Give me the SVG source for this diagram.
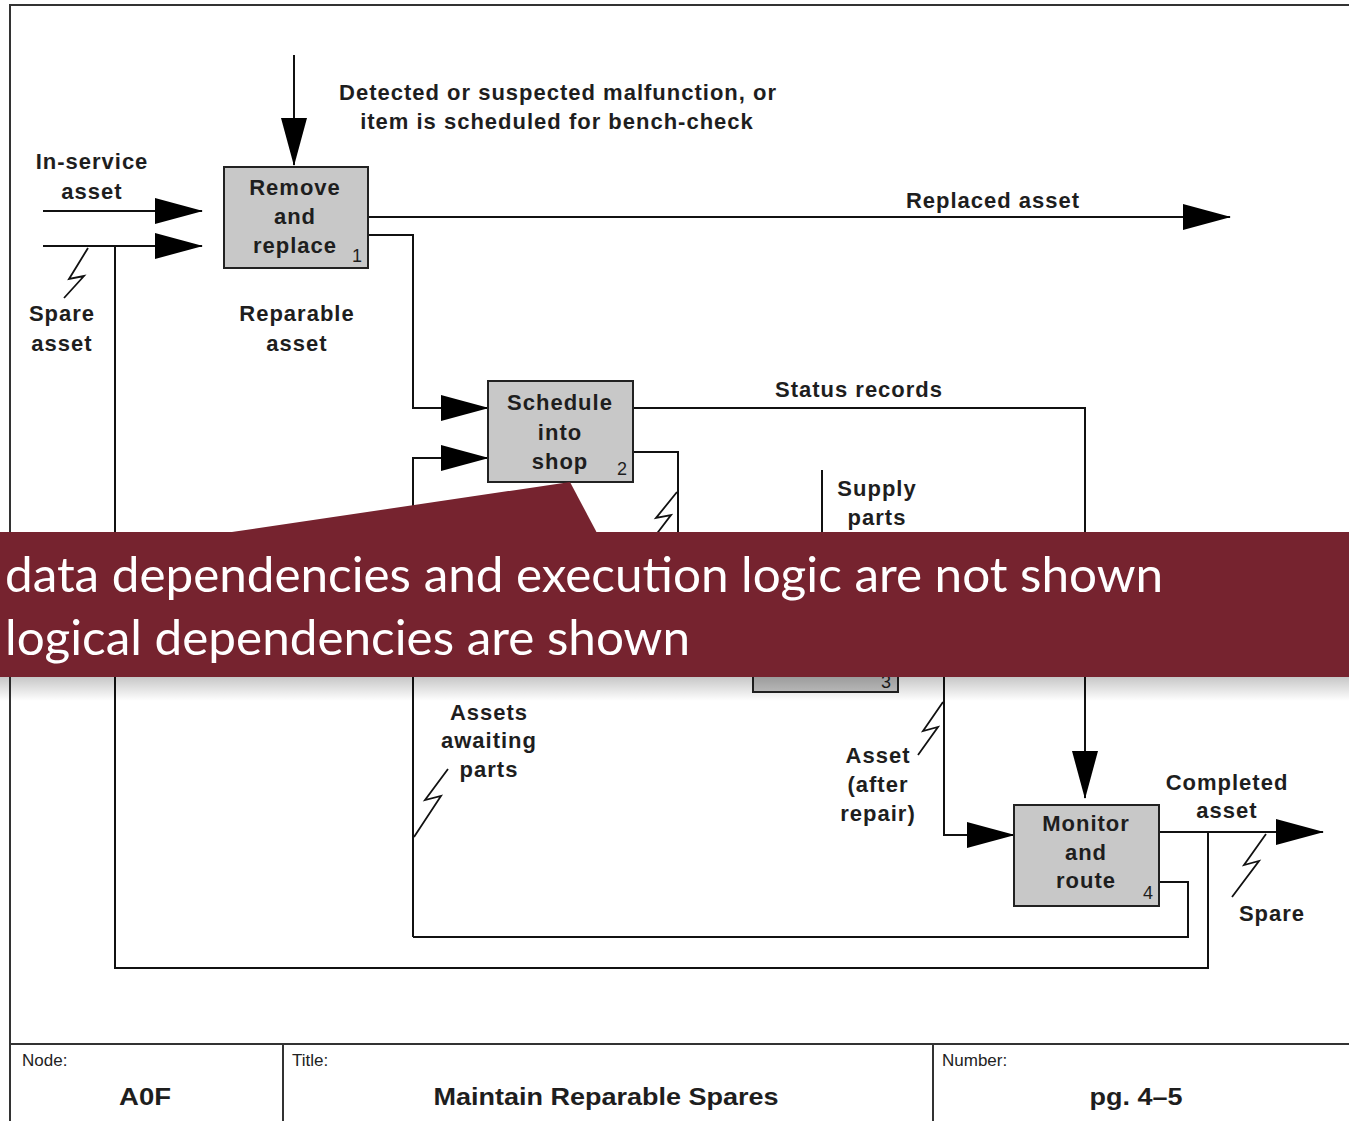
<svg xmlns="http://www.w3.org/2000/svg" width="1349" height="1121" viewBox="0 0 1349 1121">
<style>
.lbl{font-family:"Liberation Sans",Arial,sans-serif;font-weight:bold;font-size:22px;letter-spacing:1px;fill:#1e1e1e;text-anchor:middle}
.num{font-family:"Liberation Sans",Arial,sans-serif;font-size:18px;fill:#1e1e1e;text-anchor:middle}
.box{fill:#c8c8c8;stroke:#222;stroke-width:2}
.ln{fill:none;stroke:#111;stroke-width:2}
.bolt{fill:none;stroke:#111;stroke-width:1.8;stroke-linejoin:miter}
.frame{fill:none;stroke:#333;stroke-width:2}
.ft{font-family:"Liberation Sans",Arial,sans-serif;font-size:17px;fill:#222}
.fb{font-family:"Liberation Sans",Arial,sans-serif;font-weight:bold;font-size:24px;fill:#1e1e1e;text-anchor:middle}
.ban{font-family:Lato,"Open Sans",sans-serif;font-size:48px;fill:#ffffff}
</style>
<defs>
<marker id="ah" viewBox="0 0 48 26" markerWidth="48" markerHeight="26" refX="47" refY="13" orient="auto" markerUnits="userSpaceOnUse">
<path d="M0,0 L48,13 L0,26 Z" fill="#000"/>
</marker>
<linearGradient id="shd" x1="0" y1="0" x2="0" y2="1">
<stop offset="0" stop-color="#000" stop-opacity="0.22"/>
<stop offset="1" stop-color="#000" stop-opacity="0"/>
</linearGradient>
</defs>
<rect x="0" y="0" width="1349" height="1121" fill="#fff"/>
<g id="frame">
<path class="frame" d="M10,1121 V5 H1349"/>
<path class="frame" d="M10,1044 H1349 M283,1044 V1121 M933,1044 V1121"/>
<text class="ft" x="22" y="1066">Node:</text>
<text class="ft" x="292" y="1066">Title:</text>
<text class="ft" x="942" y="1066">Number:</text>
<text class="fb" x="145" y="1105" textLength="52" lengthAdjust="spacingAndGlyphs">A0F</text>
<text class="fb" x="606" y="1105" textLength="345" lengthAdjust="spacingAndGlyphs">Maintain Reparable Spares</text>
<text class="fb" x="1136" y="1105" textLength="93" lengthAdjust="spacingAndGlyphs">pg. 4–5</text>
</g>
<g id="connectors">
<path class="ln" d="M294,55 V165" marker-end="url(#ah)"/>
<path class="ln" d="M43,211 H202" marker-end="url(#ah)"/>
<path class="ln" d="M43,246 H202" marker-end="url(#ah)"/>
<path class="ln" d="M368,217 H1230" marker-end="url(#ah)"/>
<path class="ln" d="M368,235 H413 V408 H488" marker-end="url(#ah)"/>
<path class="ln" d="M413,937 V458 H488" marker-end="url(#ah)"/>
<path class="ln" d="M633,408 H1085 V798" marker-end="url(#ah)"/>
<path class="ln" d="M633,452 H678 V620"/>
<path class="ln" d="M822,470 V600"/>
<path class="ln" d="M944,600 V835 H1014" marker-end="url(#ah)"/>
<path class="ln" d="M1159,832 H1323" marker-end="url(#ah)"/>
<path class="ln" d="M1159,882 H1188 V937 H413"/>
<path class="ln" d="M1208,832 V968 H115 V246"/>
<polyline class="bolt" points="88,248 69,279 84,276 64,298"/>
<polyline class="bolt" points="677,492 656,518 671,515 652,540"/>
<polyline class="bolt" points="943,702 923,731 938,727 918,755"/>
<polyline class="bolt" points="448,769 425,800 441,796 414,837"/>
<polyline class="bolt" points="1266,834 1244,865 1259,861 1232,897"/>
</g>
<g id="node1">
<rect class="box" x="224" y="167" width="144" height="101"/>
<text class="lbl" x="295" y="195">Remove</text>
<text class="lbl" x="295" y="224">and</text>
<text class="lbl" x="295" y="253">replace</text>
<text class="num" x="357" y="262">1</text>
</g>
<g id="node2">
<rect class="box" x="488" y="381" width="145" height="101"/>
<text class="lbl" x="560" y="410">Schedule</text>
<text class="lbl" x="560" y="440">into</text>
<text class="lbl" x="560" y="469">shop</text>
<text class="num" x="622" y="475">2</text>
</g>
<g id="node3">
<rect class="box" x="753" y="592" width="145" height="100"/>
<text class="num" x="886" y="688">3</text>
</g>
<g id="node4">
<rect class="box" x="1014" y="805" width="145" height="101"/>
<text class="lbl" x="1086" y="831">Monitor</text>
<text class="lbl" x="1086" y="860">and</text>
<text class="lbl" x="1086" y="888">route</text>
<text class="num" x="1148" y="899">4</text>
</g>
<g id="labels">
<text class="lbl" x="558" y="100">Detected or suspected malfunction, or</text>
<text class="lbl" x="557" y="129">item is scheduled for bench-check</text>
<text class="lbl" x="92" y="169">In-service</text>
<text class="lbl" x="92" y="199">asset</text>
<text class="lbl" x="62" y="321">Spare</text>
<text class="lbl" x="62" y="351">asset</text>
<text class="lbl" x="297" y="321">Reparable</text>
<text class="lbl" x="297" y="351">asset</text>
<text class="lbl" x="993" y="208">Replaced asset</text>
<text class="lbl" x="859" y="397">Status records</text>
<text class="lbl" x="877" y="496">Supply</text>
<text class="lbl" x="877" y="525">parts</text>
<text class="lbl" x="489" y="720">Assets</text>
<text class="lbl" x="489" y="748">awaiting</text>
<text class="lbl" x="489" y="777">parts</text>
<text class="lbl" x="878" y="763">Asset</text>
<text class="lbl" x="878" y="792">(after</text>
<text class="lbl" x="878" y="821">repair)</text>
<text class="lbl" x="1227" y="790">Completed</text>
<text class="lbl" x="1227" y="818">asset</text>
<text class="lbl" x="1272" y="921">Spare</text>
</g>
<g id="callout">
<rect x="0" y="677" width="1349" height="24" fill="url(#shd)"/>
<polygon points="225,533 570,482 597,533" fill="#76232f"/>
<rect x="0" y="532" width="1349" height="145" fill="#76232f"/>
<text class="ban" x="5" y="592" textLength="1158" lengthAdjust="spacingAndGlyphs">data dependencies and execution logic are not shown</text>
<text class="ban" x="5" y="655" textLength="685" lengthAdjust="spacingAndGlyphs">logical dependencies are shown</text>
</g>
</svg>
